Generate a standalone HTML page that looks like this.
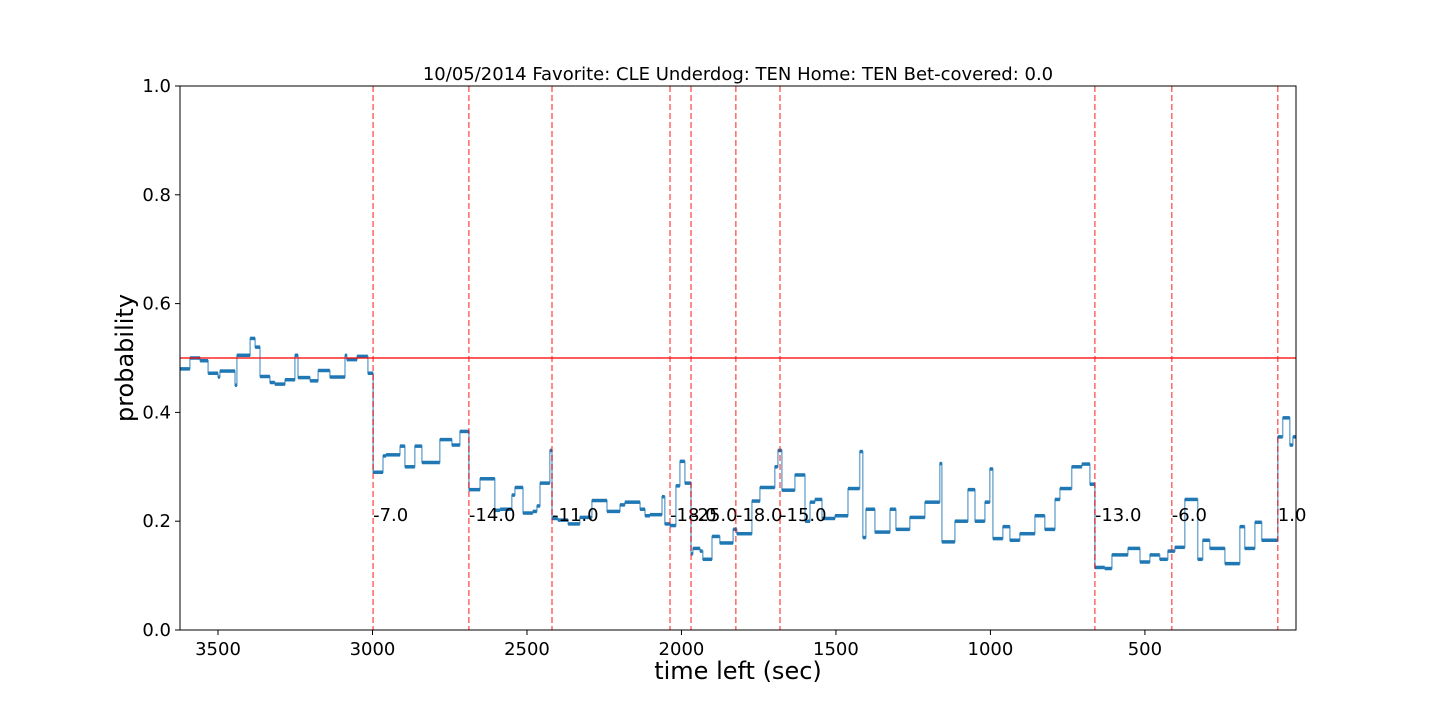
<!DOCTYPE html>
<html><head><meta charset="utf-8"><style>
body{margin:0;background:#fff;}
svg{display:block;font-family:"DejaVu Sans","Liberation Sans",sans-serif;}
</style></head><body>
<svg id="chart" width="1440" height="720">
<rect x="0" y="0" width="1440" height="720" fill="#fff"/>
<text x="738" y="80" font-size="18" text-anchor="middle">10/05/2014 Favorite: CLE Underdog: TEN Home: TEN Bet-covered: 0.0</text>
<g id="plot"></g>
<rect x="180" y="86" width="1116" height="544" fill="none" stroke="#000" stroke-width="1"/>
<text x="738" y="679" font-size="24" text-anchor="middle">time left (sec)</text>
<text transform="translate(133,358) rotate(-90)" font-size="24" text-anchor="middle">probability</text>
</svg>
<script>
const times=[3623,3591,3558,3532,3500,3494,3445,3439,3396,3380,3364,3332,3316,3283,3251,3241,3202,3176,3138,3089,3083,3050,3015,2998,2966,2956,2911,2895,2863,2840,2782,2743,2717,2688,2652,2604,2587,2549,2539,2513,2481,2468,2458,2426,2419,2400,2367,2329,2290,2241,2199,2183,2134,2118,2102,2063,2054,2037,2018,2005,1989,1969,1963,1940,1931,1901,1876,1833,1821,1772,1746,1698,1688,1675,1633,1600,1584,1568,1545,1503,1461,1423,1413,1403,1374,1325,1306,1261,1212,1164,1157,1115,1073,1050,1018,1002,992,960,937,905,856,824,791,775,737,704,678,662,630,607,555,516,484,452,426,403,371,329,313,290,241,193,177,144,122,70,54,31,21];
const probs=[0.48,0.50,0.495,0.472,0.465,0.476,0.45,0.505,0.536,0.52,0.466,0.455,0.452,0.46,0.505,0.464,0.458,0.477,0.465,0.505,0.497,0.503,0.472,0.29,0.32,0.322,0.338,0.30,0.338,0.308,0.35,0.34,0.365,0.258,0.278,0.22,0.222,0.248,0.262,0.215,0.218,0.228,0.27,0.33,0.205,0.202,0.195,0.207,0.238,0.218,0.23,0.235,0.222,0.21,0.212,0.245,0.195,0.192,0.265,0.31,0.27,0.14,0.15,0.145,0.13,0.172,0.16,0.185,0.177,0.237,0.262,0.30,0.33,0.257,0.285,0.20,0.235,0.24,0.205,0.21,0.26,0.328,0.17,0.222,0.18,0.222,0.185,0.207,0.235,0.306,0.162,0.20,0.258,0.20,0.235,0.296,0.168,0.19,0.165,0.177,0.21,0.185,0.24,0.26,0.30,0.305,0.268,0.115,0.113,0.138,0.15,0.125,0.138,0.13,0.145,0.152,0.24,0.13,0.165,0.15,0.122,0.19,0.15,0.198,0.165,0.355,0.39,0.34,0.355];
const endTime=11;
const eventTimes=[2998,2688,2419,2037,1969,1824,1681,662,413,70];
const eventLabels=["-7.0","-14.0","-11.0","-18.0","-25.0","-18.0","-15.0","-13.0","-6.0","1.0"];
const xTicks=[3500,3000,2500,2000,1500,1000,500];
const yTicks=[0.0,0.2,0.4,0.6,0.8,1.0];
const yTickLabels=["0.0","0.2","0.4","0.6","0.8","1.0"];

const X0=180,X1=1296,Y0=630,Y1=86,TMAX=3623,TMIN=11;
const xs=t=>X0+(TMAX-t)/(TMAX-TMIN)*(X1-X0);
const ys=p=>Y0-p*(Y0-Y1);
const NS="http://www.w3.org/2000/svg";
const svg=document.getElementById('chart');
const g=document.getElementById('plot');
function mk(tag,attrs,parent){const e=document.createElementNS(NS,tag);for(const k in attrs)e.setAttribute(k,attrs[k]);(parent||g).appendChild(e);return e;}

xTicks.forEach(t=>{
  const x=xs(t);
  const l=mk('line',{x1:x,x2:x,y1:Y0,y2:Y0+5,stroke:'#000'},svg);
  
  
  const tx=mk('text',{x:x,y:Y0+25,'font-size':18,'text-anchor':'middle'},svg);
  tx.textContent=t;
  
  
});
yTicks.forEach((v,i)=>{
  const y=ys(v);
  const l=mk('line',{x1:X0-5,x2:X0,y1:y,y2:y,stroke:'#000'},svg);
  
  
  const tx=mk('text',{x:X0-9,y:y+6,'font-size':18,'text-anchor':'end'},svg);
  tx.textContent=yTickLabels[i];
  
  
});

let d='';
for(let i=0;i<times.length;i++){
  const x=xs(times[i]),y=ys(probs[i]);
  const xn=xs(i+1<times.length?times[i+1]:endTime);
  d+=(i===0?'M':'L')+x.toFixed(1)+','+y.toFixed(1)+'L'+xn.toFixed(1)+','+y.toFixed(1);
}
const line=mk('path',{d:d,fill:'none',stroke:'#1f77b4','stroke-width':1.5,'stroke-opacity':0.6});


for(let i=0;i<times.length;i++){
  const x=xs(times[i]),y=ys(probs[i]);
  const xn=xs(i+1<times.length?times[i+1]:endTime);
  const s=mk('line',{x1:x,x2:xn,y1:y,y2:y,stroke:'#1f77b4','stroke-width':3.5});
  
  
}

const h=mk('line',{x1:X0,x2:X1,y1:ys(0.5),y2:ys(0.5),stroke:'#ff0000','stroke-width':1.5,'stroke-opacity':0.85});



eventTimes.forEach((t,i)=>{
  const x=xs(t);
  const l=mk('line',{x1:x,x2:x,y1:Y1,y2:Y0,stroke:'#ff0000','stroke-width':1.5,'stroke-opacity':0.6,'stroke-dasharray':'6,3'});
  
  
  const tx=mk('text',{x:x,y:ys(0.2),'font-size':18});
  tx.textContent=eventLabels[i];
  
  
});
</script>
</body></html>
